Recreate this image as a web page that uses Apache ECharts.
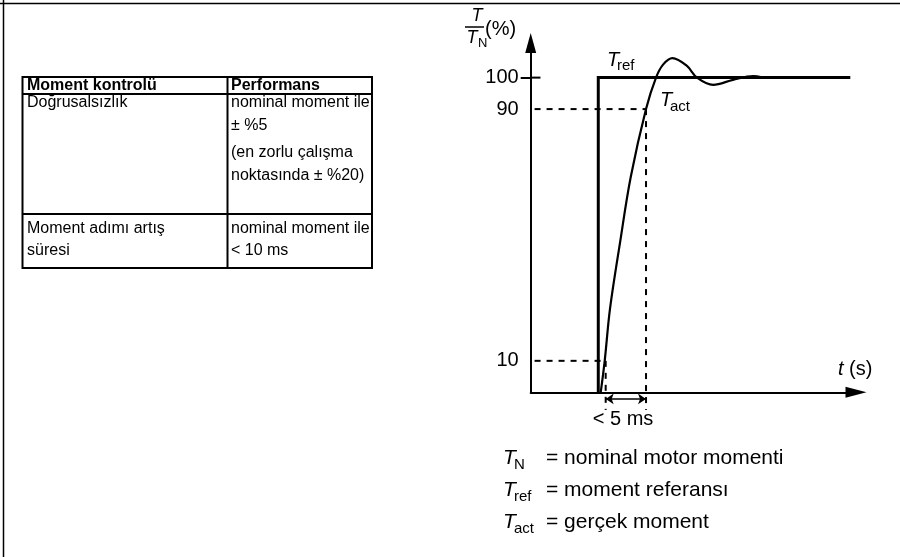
<!DOCTYPE html>
<html><head><meta charset="utf-8">
<script src="https://cdn.jsdelivr.net/npm/echarts@6/dist/echarts.min.js"></script>
<style>html,body{margin:0;padding:0;background:#fff}#c{width:900px;height:557px}</style>
</head><body><div id="c"></div>
<script>
// ---- data ----
const yTickValues = [10, 90, 100];
const yTickLabels = ['10', '90', '100'];
const trefX = [8.31, 8.31, 39.3];
const trefY = [0, 100, 100];
const tactX = [8.61, 9.1, 9.75, 10.98, 12.3, 14.18, 15.41, 16.3, 17.43, 19.18, 20.45, 22.45, 24.87, 27.37, 28.44];
const tactY = [0, 10, 26.5, 47.5, 68.4, 90, 100, 104.2, 106.2, 103.8, 100, 97.7, 99.3, 100.5, 100.1];
const t10 = 9.22;
const t90 = 14.18;
const dashStartX = -1;
const dashBottomY = -5.6;
const arrowY = -2.1;
const tableHeader = ['Moment kontrolü', 'Performans'];
const tableRow1Left = ['Doğrusalsızlık'];
const tableRow1Right = ['nominal moment ile', '± %5', '(en zorlu çalışma', 'noktasında ± %20)'];
const tableRow2Left = ['Moment adımı artış', 'süresi'];
const tableRow2Right = ['nominal moment ile', '< 10 ms'];
const legendSubs = ['N', 'ref', 'act'];
const legendTexts = ['= nominal motor momenti', '= moment referansı', '= gerçek moment'];

const zip = (xs, ys) => xs.map((x, i) => [x, ys[i]]);
const FF = '"Liberation Sans", Arial, sans-serif';
const black = '#000';

function txt(text, x, y, size, opts = {}) {
  return {
    type: 'text', silent: true,
    style: {
      text, x, y,
      font: (opts.italic ? 'italic ' : '') + (opts.bold ? 'bold ' : '') + size + 'px ' + FF,
      fill: black,
      align: opts.align || 'left', textAlign: opts.align || 'left',
      verticalAlign: 'middle', textVerticalAlign: 'middle'
    }
  };
}
function ln(x1, y1, x2, y2, w) {
  return { type: 'line', silent: true, shape: { x1, y1, x2, y2 }, style: { stroke: black, lineWidth: w || 2 } };
}

// table
const TL = 22.5, TC = 227.5, TR = 372, TT = 77, TH = 94, TM = 214, TB = 268;
const colL = 27, colR = 231;
const FS = 16;
const g = [];
g.push(ln(0, 3.5, 900, 3.5, 1.5));
g.push(ln(3.5, 0, 3.5, 557, 1.5));
g.push({ type: 'rect', silent: true, shape: { x: TL, y: TT, width: TR - TL, height: TB - TT }, style: { fill: 'none', stroke: black, lineWidth: 2 } });
g.push(ln(TL, TH, TR, TH));
g.push(ln(TL, TM, TR, TM));
g.push(ln(TC, TT, TC, TB));
g.push(txt(tableHeader[0], colL, 86, FS, { bold: true }));
g.push(txt(tableHeader[1], colR, 86, FS, { bold: true }));
const r1y = [103, 126, 153, 176];
tableRow1Left.forEach((s, i) => g.push(txt(s, colL, r1y[i], FS)));
tableRow1Right.forEach((s, i) => g.push(txt(s, colR, r1y[i], FS)));
const r2y = [229, 251];
tableRow2Left.forEach((s, i) => g.push(txt(s, colL, r2y[i], FS)));
tableRow2Right.forEach((s, i) => g.push(txt(s, colR, r2y[i], FS)));

// y axis name (fraction)
g.push(txt('T', 477, 16, 18, { italic: true, align: 'center' }));
g.push(ln(465, 27, 484, 27, 1.5));
g.push(txt('T', 472, 38, 18, { italic: true, align: 'center' }));
g.push(txt('N', 478, 43, 13));
g.push(txt('(%)', 485, 29, 20));
// curve labels
g.push(txt('T', 607, 60, 20, { italic: true }));
g.push(txt('ref', 617, 66, 15));
g.push(txt('T', 660, 100, 20, { italic: true }));
g.push(txt('act', 670, 107, 15));
// x axis name
g.push({ type: 'text', silent: true, style: { text: '{i|t} (s)', x: 838, y: 369, font: '20px ' + FF, fill: black, verticalAlign: 'middle', textVerticalAlign: 'middle', rich: { i: { fontStyle: 'italic', fontSize: 20, fontFamily: FF, fill: black } } } });
g.push(txt('< 5 ms', 623, 419, 20, { align: 'center' }));
// legend
const ly = [458, 490, 522];
legendTexts.forEach((s, i) => {
  g.push(txt('T', 503, ly[i], 21, { italic: true }));
  g.push(txt(legendSubs[i], 514, ly[i] + 7, 15));
  g.push(txt(s, 546, ly[i], 21));
});

const dashStyle = { color: black, width: 2, type: [6, 6] };
const option = {
  animation: false,
  backgroundColor: '#fff',
  grid: { left: 530.7, top: 43, width: 325.3, height: 349.3, containLabel: false },
  xAxis: {
    type: 'value', min: 0, max: 40,
    axisLine: { show: true, symbol: ['none', 'triangle'], symbolSize: [11, 21], lineStyle: { color: black, width: 2 } },
    axisTick: { show: false }, axisLabel: { show: false }, splitLine: { show: false }
  },
  yAxis: {
    type: 'value', min: 0, max: 111,
    axisLine: { show: true, symbol: ['none', 'triangle'], symbolSize: [11, 20], lineStyle: { color: black, width: 2 } },
    axisTick: { show: true, customValues: [100], length: 10, lineStyle: { color: black, width: 2 } },
    axisLabel: {
      show: true, customValues: yTickValues, margin: 12, color: black, fontSize: 20, fontFamily: FF,
      formatter: v => yTickLabels[yTickValues.indexOf(v)] ?? ''
    },
    splitLine: { show: false }
  },
  series: [
    { type: 'line', data: zip(trefX, trefY), symbol: 'none', lineStyle: { color: black, width: 3, join: 'miter', cap: 'butt' }, z: 5 },
    { type: 'line', data: zip(tactX, tactY), symbol: 'none', smooth: 0.35, lineStyle: { color: black, width: 2.2 }, z: 5 },
    { type: 'line', data: [[dashStartX, 90], [t90, 90]], symbol: 'none', clip: false, lineStyle: dashStyle },
    { type: 'line', data: [[dashStartX, 10], [t10, 10]], symbol: 'none', clip: false, lineStyle: dashStyle },
    { type: 'line', data: [[t90, 90], [t90, dashBottomY]], symbol: 'none', clip: false, lineStyle: dashStyle },
    { type: 'line', data: [[t10, 10], [t10, dashBottomY]], symbol: 'none', clip: false, lineStyle: dashStyle },
    { type: 'line', data: [[0, 100], [1.2, 100]], symbol: 'none', clip: false, lineStyle: { color: black, width: 2 } },
    { type: 'lines', coordinateSystem: 'cartesian2d', clip: false, symbol: ['arrow', 'arrow'], symbolSize: 8,
      lineStyle: { color: black, width: 1.5, opacity: 1 },
      data: [{ coords: [[t10, arrowY], [t90, arrowY]] }] }
  ],
  graphic: { elements: g }
};
const chart = echarts.init(document.getElementById('c'), null, { renderer: 'canvas' });
chart.setOption(option);
</script></body></html>
